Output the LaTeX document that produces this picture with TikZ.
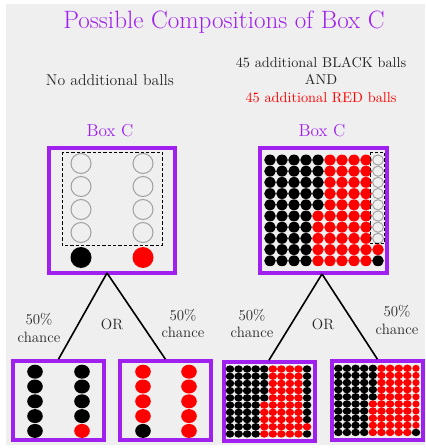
\documentclass[tikz,border=0pt]{standalone}
\usepackage{xcolor}
\definecolor{boxpurple}{HTML}{A020F0}
\definecolor{bgcol}{HTML}{EFEFEF}
\definecolor{ringcol}{HTML}{A0A0A0}
\newcommand\myballs[5]{\foreach \jj in {#4,...,#5}{\foreach \ii in {#2,...,#3}{\path[#1] (\gxo+\gdx*\ii,\gyo+\gdy*\jj) ellipse[x radius=\grx,y radius=\gry];}}}
\begin{document}
\begin{tikzpicture}[x=0.75pt,y=-0.75pt,
  ballbox/.style={draw=boxpurple,line width=3pt,rectangle,inner sep=0pt},
  bigbox/.style={ballbox,minimum width=94.5pt,minimum height=93.75pt},
  smallbox/.style={ballbox,minimum width=68.25pt,minimum height=59pt},
  conn/.style={line width=1.2pt,black},
  lbl/.style={font=\fontsize{10.7}{13}\selectfont,text=black!85,align=center,inner sep=0pt},
  chlbl/.style={lbl,font=\fontsize{11.2}{13}\selectfont},
  boxlbl/.style={font=\fontsize{13}{15}\selectfont,text=boxpurple,inner sep=0pt},
  ring/.style={draw=ringcol,line width=0.75pt},
  dashbox/.style={draw=black,line width=0.6pt,dash pattern=on 2.5pt off 1.5pt}]
\useasboundingbox (0,0) rectangle (425,448);
\fill[bgcol] (6,4) rectangle (425,445);

% texts
\node[font=\fontsize{18.8}{22}\selectfont,text=boxpurple,inner sep=0pt] (title) at (224,22) {Possible Compositions of Box C};
\node[lbl,font=\fontsize{11.8}{14}\selectfont] (subL) at (110,80) {No additional balls};
\node[lbl] (subR) at (321,80) {45 additional BLACK balls\\AND\\\textcolor{red}{45 additional RED balls}};
\node[boxlbl] (labL) at (110,131) {Box C};
\node[boxlbl] (labR) at (322,131) {Box C};

% top boxes
\node[bigbox] (topL) at (112.25,210.5) {};
\node[bigbox,minimum width=95.6pt] (topR) at (323.25,210.5) {};

% bottom boxes
\node[smallbox] (b1) at (58.5,400.5) {};
\node[smallbox] (b2) at (165.4,400.5) {};
\node[smallbox] (b3) at (269,401.5) {};
\node[smallbox] (b4) at (377.4,400.5) {};

% connectors
\coordinate (apexL) at (107,273);
\coordinate (apexR) at (322,274);
\draw[conn] (apexL) -- (b1.north);
\draw[conn] (apexL) -- (b2.north);
\draw[conn] (apexR) -- (b3.north);
\draw[conn] (apexR) -- (b4.north);

\node[chlbl] (c1) at (39,328) {50\%\\chance};
\node[chlbl] (or1) at (112,324.3) {OR};
\node[chlbl] (c2) at (183,323.5) {50\%\\chance};
\node[chlbl] (c3) at (252,323.5) {50\%\\chance};
\node[chlbl] (or2) at (323,324) {OR};
\node[chlbl] (c4) at (397,320) {50\%\\chance};

% top-left box contents
\draw[dashbox] (62,152) rectangle (162,245);
\foreach \y in {163.5,186.5,209.5,232.5}{
  \draw[ring] (81,\y) circle[radius=10];
  \draw[ring] (143,\y) circle[radius=10];
}
\fill[black] (81,257.5) circle[radius=10.5];
\fill[red] (143,257.5) circle[radius=10.5];

% top-right box contents
\def\gxo{270}\def\gdx{12}\def\gyo{160}\def\gdy{11.2}\def\grx{5.8}\def\gry{5.4}
\myballs{fill=black}{0}{4}{0}{4}
\myballs{fill=black}{0}{3}{5}{9}
\myballs{fill=red}{5}{8}{0}{4}
\myballs{fill=red}{4}{8}{5}{9}
\myballs{fill=red}{9}{9}{8}{8}
\myballs{fill=black}{9}{9}{9}{9}
\def\grx{5.4}\def\gry{5.1}
\myballs{ring,line width=0.7pt}{9}{9}{0}{7}
\draw[dashbox] (370.7,152) rectangle (384.3,243.3);

% bottom box 1
\def\gxo{35}\def\gdx{47}\def\gyo{371.7}\def\gdy{14.8}\def\grx{7.8}\def\gry{7.0}
\myballs{fill=black}{0}{1}{0}{3}
\myballs{fill=black}{0}{0}{4}{4}
\myballs{fill=red}{1}{1}{4}{4}
% bottom box 2
\def\gxo{143}\def\gdx{46}
\myballs{fill=red}{0}{1}{0}{3}
\myballs{fill=black}{0}{0}{4}{4}
\myballs{fill=red}{1}{1}{4}{4}

% bottom box 3
\def\gxo{230}\def\gdx{8.56}\def\gyo{369}\def\gdy{7.22}\def\grx{4.3}\def\gry{3.7}
\myballs{fill=black}{0}{4}{0}{4}
\myballs{fill=black}{0}{3}{5}{9}
\myballs{fill=red}{5}{8}{0}{4}
\myballs{fill=red}{4}{8}{5}{9}
\myballs{fill=black}{9}{9}{0}{7}
\myballs{fill=red}{9}{9}{8}{8}
\myballs{fill=black}{9}{9}{9}{9}

% bottom box 4
\def\gxo{338.3}\def\gdx{8.63}\def\gyo{368.3}\def\gdy{7.13}
\myballs{fill=black}{0}{4}{0}{4}
\myballs{fill=black}{0}{3}{5}{9}
\myballs{fill=red}{5}{8}{0}{4}
\myballs{fill=red}{4}{8}{5}{9}
\def\grx{3.6}\def\gry{3.5}
\myballs{fill=red}{9}{9}{0}{8}
\def\grx{4.3}\def\gry{3.7}
\myballs{fill=black}{9}{9}{9}{9}
\end{tikzpicture}
\end{document}
